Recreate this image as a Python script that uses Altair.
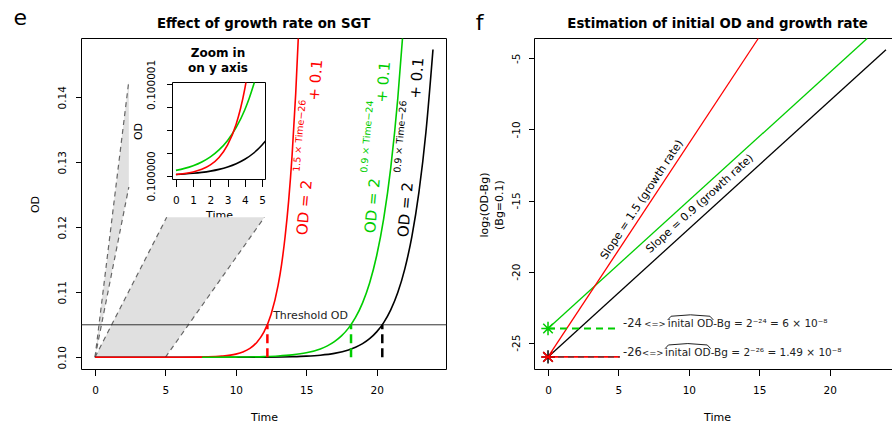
import altair as alt
import pandas as pd

# ---------------- data ----------------
# Panel e : OD versus Time for the three growth curves (OD = 2^(r*Time - k) + 0.1)
red_time = [0, 4, 6, 8, 9, 10, 10.5, 11, 11.5, 12, 12.5, 13, 13.25, 13.5, 13.75, 14, 14.25, 14.433]
red_od = [0.1, 0.100001, 0.1000076, 0.100061, 0.100173, 0.100488, 0.100821, 0.101381, 0.102323,
          0.103906, 0.106569, 0.111049, 0.11431, 0.118581, 0.12406, 0.13125, 0.1405, 0.14905]
green_time = [7.6, 8, 10, 12, 13, 14, 15, 16, 16.5, 17, 17.5, 18, 18.5, 19, 19.5, 20, 20.5, 21, 21.5, 21.834]
green_od = [0.100007, 0.100009, 0.100031, 0.100106, 0.100198, 0.100369, 0.100691, 0.101289, 0.10176,
            0.102405, 0.103285, 0.104487, 0.106128, 0.108373, 0.111433, 0.115625, 0.12134, 0.12915,
            0.13982, 0.14905]
black_time = [0, 10, 12, 14, 15, 16, 17, 18, 18.5, 19, 19.5, 20, 20.5, 21, 21.5, 22, 22.5, 23, 23.5, 24]
black_od = [0.1, 0.100008, 0.100027, 0.100092, 0.100173, 0.100322, 0.100601, 0.101122, 0.101533,
            0.102094, 0.10286, 0.103906, 0.105337, 0.107289, 0.109959, 0.113602, 0.118581, 0.125377,
            0.134668, 0.147366]
threshold_od = 0.105
crossing_time = [12.24, 18.18, 20.40]          # red, green, black

# zoom guides (grey wedges)
guideA_time = [0, 2.40]
guideA_upper = [0.1, 0.14251]
guideA_lower = [0.1, 0.1262]
guideB_od = [0.1, 0.12154]
guideB_left = [0, 5.09]
guideB_right = [5, 12.03]

# inset: OD - 0.1 in units of 1e-6
inset_red_time = [0, 0.5, 1, 1.5, 2, 2.5, 3, 3.5, 3.75, 4, 4.065]
inset_red_exc = [0.0149, 0.0251, 0.0421, 0.0709, 0.1192, 0.2005, 0.3372, 0.5670, 0.7353, 0.9537, 1.02]
inset_green_time = [0, 0.5, 1, 1.5, 2, 2.5, 3, 3.5, 4, 4.25, 4.552]
inset_green_exc = [0.0596, 0.0814, 0.1112, 0.1519, 0.2076, 0.2835, 0.3873, 0.5291, 0.7228, 0.845, 1.02]
inset_black_time = [0, 0.5, 1, 1.5, 2, 2.5, 3, 3.5, 4, 4.5, 5, 5.2]
inset_black_exc = [0.0149, 0.0204, 0.0278, 0.0380, 0.0519, 0.0709, 0.0968, 0.1323, 0.1807, 0.2468, 0.3372, 0.380]

# Panel f : log2(OD - Bg) straight lines
f_red_time, f_red_log = [0, 14.93], [-26, -3.607]
f_green_time, f_green_log = [0, 22.66], [-24, -3.607]
f_black_time, f_black_log = [0, 24], [-26, -4.4]
intercept_log = [-24, -26]
dash_end_time = 5.1

# ---------------- style / layout ----------------
FONT = "DejaVu Sans"
RED, GREEN, BLACK = "#FF0000", "#00CD00", "#000000"
GUIDE_FILL, GUIDE_LINE = "#E0E0E0", "#666666"
W, H = 892, 426
PANELS = {
    "L": ([-0.96, 24.96], [81.5, 446.5], [0.09812, 0.14905], [369.5, 38.5]),
    "R": ([-0.96, 24.96], [534.5, 899.5], [-26.885, -3.607], [369.5, 38.5]),
    "I": ([-0.2, 5.2], [172.5, 265.5], [-0.04, 1.02], [179.5, 82.5]),
}


def scale(dom, rng):
    return alt.Scale(domain=dom, range=rng, nice=False, zero=False)


def pos(p, x2=None, y2=None, xaxis=None, yaxis=None):
    xd, xr, yd, yr = PANELS[p]
    e = {"x": alt.X("x", type="quantitative", scale=scale(xd, xr), axis=xaxis),
         "y": alt.Y("y", type="quantitative", scale=scale(yd, yr), axis=yaxis)}
    if x2:
        e["x2"] = alt.X2(x2)
    if y2:
        e["y2"] = alt.Y2(y2)
    return e


def line(p, xs, ys, color, width, interp="linear"):
    df = pd.DataFrame({"x": xs, "y": ys})
    return alt.Chart(df).mark_line(color=color, strokeWidth=width, interpolate=interp).encode(**pos(p))


def segs(p, x, y, x2, y2, color, width, dash=None, opacity=1.0):
    df = pd.DataFrame({"x": x, "y": y, "x2": x2, "y2": y2})
    kw = dict(color=color, strokeWidth=width, opacity=opacity)
    if dash:
        kw["strokeDash"] = dash
    return alt.Chart(df).mark_rule(**kw).encode(**pos(p, x2="x2", y2="y2"))


def text(p, xs, ys, labels, size, color="#000000", angle=0, align="center",
         baseline="middle", weight="normal"):
    df = pd.DataFrame({"x": xs, "y": ys, "t": labels})
    return alt.Chart(df).mark_text(font=FONT, fontSize=size, color=color, angle=angle, align=align,
                                   baseline=baseline, fontWeight=weight).encode(text="t:N", **pos(p))


def frame(p, xaxis, yaxis, fill_opacity=0.0):
    xd, xr, yd, yr = PANELS[p]
    df = pd.DataFrame({"x": [xd[0]], "x2": [xd[1]], "y": [yd[0]], "y2": [yd[1]]})
    return alt.Chart(df).mark_rect(fill="white", fillOpacity=fill_opacity, stroke="black",
                                   strokeWidth=1).encode(**pos(p, x2="x2", y2="y2", xaxis=xaxis, yaxis=yaxis))


base_axis = dict(domain=False, grid=False, ticks=True, tickColor="black", tickWidth=1,
                 labelFont=FONT, labelFontSize=10.5, labelColor="black", labelFlush=False,
                 labelOverlap=False, titleFont=FONT, titleFontSize=11, titleFontWeight="normal",
                 titleColor="black")

ax_Lx = alt.Axis(orient="bottom", offset=369.5 - H, values=[0, 5, 10, 15, 20], tickSize=6,
                 labelPadding=15, labelBaseline="middle", title="Time", titleY=47.5,
                 titleBaseline="middle", **base_axis)
ax_Ly = alt.Axis(orient="left", offset=-81.5, values=[0.10, 0.11, 0.12, 0.13, 0.14], format=".2f",
                 tickSize=6, labelPadding=13.5, labelAngle=270, labelAlign="center",
                 labelBaseline="middle", title="OD", titleX=-46.5, titleAngle=270,
                 titleBaseline="middle", titleAlign="center", **base_axis)
ax_Rx = alt.Axis(orient="bottom", offset=369.5 - H, values=[0, 5, 10, 15, 20], tickSize=6,
                 labelPadding=15, labelBaseline="middle", title="Time", titleY=48,
                 titleBaseline="middle", **base_axis)
ax_Ry = alt.Axis(orient="left", offset=-534.5, values=[-25, -20, -15, -10, -5],
                 labelExpr="datum.value + ''", tickSize=6, labelPadding=11.8, labelAngle=270,
                 labelAlign="center", labelBaseline="middle", title=None, **base_axis)
ax_Ix = alt.Axis(orient="bottom", offset=179.5 - H, values=[0, 1, 2, 3, 4, 5], tickSize=7,
                 labelPadding=14, labelBaseline="middle", title="Time", titleY=35.5,
                 titleBaseline="middle", **{**base_axis, "labelFontSize": 10.5, "titleFontSize": 11})
ax_Iy = alt.Axis(orient="left", offset=-172.5, values=[0, 0.25, 0.5, 0.75, 1],
                 labelExpr="datum.value == 0 ? '0.100000' : (datum.value == 1 ? '0.100001' : '')",
                 tickSize=6, labelPadding=14.8, labelAngle=270, labelAlign="center",
                 labelBaseline="middle", title="OD", titleX=-34.5, titleAngle=270,
                 titleBaseline="middle", titleAlign="center", **base_axis)

layers = []

# ---------- panel e ----------
dfA = pd.DataFrame({"x": guideA_time, "y": guideA_upper, "y2": guideA_lower})
layers.append(alt.Chart(dfA).mark_area(color=GUIDE_FILL, opacity=1).encode(**pos("L", y2="y2")))
dfB = pd.DataFrame({"y": guideB_od, "x": guideB_left, "x2": guideB_right})
layers.append(alt.Chart(dfB).mark_area(color=GUIDE_FILL, opacity=1, orient="horizontal")
              .encode(**pos("L", x2="x2")))
layers.append(segs("L", [guideA_time[0], guideA_time[0], guideB_left[0], guideB_right[0]],
                   [guideA_upper[0], guideA_lower[0], guideB_od[0], guideB_od[0]],
                   [guideA_time[1], guideA_time[1], guideB_left[1], guideB_right[1]],
                   [guideA_upper[1], guideA_lower[1], guideB_od[1], guideB_od[1]],
                   GUIDE_LINE, 1.2, dash=[5, 4]))
layers.append(frame("L", ax_Lx, ax_Ly))
layers.append(segs("L", [PANELS["L"][0][0]], [threshold_od], [PANELS["L"][0][1]], [threshold_od],
                   "#333333", 1))
layers.append(text("L", [12.65], [0.10635], ["Threshold OD"], 11, color="#222222", align="left"))
layers.append(line("L", black_time, black_od, BLACK, 1.6, "monotone"))
layers.append(line("L", red_time, red_od, RED, 1.6, "monotone"))
layers.append(line("L", green_time, green_od, GREEN, 1.6, "monotone"))
for t, c in zip(crossing_time, [RED, GREEN, BLACK]):
    layers.append(segs("L", [t], [0.1], [t], [threshold_od], c, 2.5, dash=[9, 5]))

# formulas (rotated)
formula_sup = ["1.5 \u00d7 Time\u221226", "0.9 \u00d7 Time\u221224", "0.9 \u00d7 Time\u221226"]
f_base1_x, f_base1_y = [14.70, 19.53, 21.87], [0.11882, 0.11912, 0.11851]
f_sup_x, f_sup_y = [14.30, 19.10, 21.46], [0.12855, 0.1284, 0.1284]
f_base2_x, f_base2_y = [15.54, 20.34, 22.73], [0.13951, 0.1392, 0.13982]
for i, c in enumerate([RED, GREEN, BLACK]):
    layers.append(text("L", [f_base1_x[i]], [f_base1_y[i]], ["OD = 2"], 15, color=c, angle=275, align="left"))
    layers.append(text("L", [f_sup_x[i]], [f_sup_y[i]], [formula_sup[i]], 9.5, color=c, angle=275, align="left"))
    layers.append(text("L", [f_base2_x[i]], [f_base2_y[i]], ["+ 0.1"], 15, color=c, angle=275, align="left"))

# inset
layers.append(frame("I", ax_Ix, ax_Iy, fill_opacity=1.0))
layers.append(line("I", inset_black_time, inset_black_exc, BLACK, 1.6, "monotone"))
layers.append(line("I", inset_green_time, inset_green_exc, GREEN, 1.6, "monotone"))
layers.append(line("I", inset_red_time, inset_red_exc, RED, 1.6, "monotone"))
layers.append(text("I", [2.44, 2.44], [1.346, 1.175], ["Zoom in", "on y axis"], 12, weight="bold"))

# ---------- panel f ----------
layers.append(frame("R", ax_Rx, ax_Ry))
layers.append(text("R", [-4.47], [-15.32], ["log\u2082(OD-Bg)"], 11, angle=270))
layers.append(text("R", [-3.41], [-15.32], ["(Bg=0.1)"], 11, angle=270))
layers.append(line("R", f_black_time, f_black_log, BLACK, 1.3))
layers.append(line("R", f_green_time, f_green_log, GREEN, 1.3))
layers.append(line("R", f_red_time, f_red_log, RED, 1.3))
layers.append(segs("R", [0], [intercept_log[0]], [dash_end_time], [intercept_log[0]], GREEN, 2, dash=[7, 5]))
layers.append(segs("R", [0], [intercept_log[1]], [dash_end_time], [intercept_log[1]], RED, 1.6))
layers.append(segs("R", [0], [intercept_log[1]], [dash_end_time], [intercept_log[1]], "#444444", 1.6,
                   dash=[6, 4], opacity=0.7))

AST = "M-1,0L1,0M0,-1L0,1M-0.71,-0.71L0.71,0.71M-0.71,0.71L0.71,-0.71"
XST = "M-0.71,-0.71L0.71,0.71M-0.71,0.71L0.71,-0.71M-1,0L1,0"
for v, c, shp in [(intercept_log[1], BLACK, AST), (intercept_log[1], RED, XST), (intercept_log[0], GREEN, AST)]:
    dfp = pd.DataFrame({"x": [0], "y": [v]})
    layers.append(alt.Chart(dfp).mark_point(shape=shp, size=180, filled=False, strokeWidth=1.5,
                                            color=c, opacity=1).encode(**pos("R")))

layers.append(text("R", [5.33, 5.33], [-23.685, -25.724], ["-24", "-26"], 11.5, color="#222222", align="left"))
layers.append(text("R", [6.84, 6.68], [-23.685, -25.724], ["<=>", "<=>"], 8.5, color="#222222", align="left"))
layers.append(text("R", [8.50, 8.31], [-23.685, -25.724],
                   ["inital OD-Bg = 2\u207b\u00b2\u2074 = 6 \u00d7 10\u207b\u2078",
                    "inital OD-Bg = 2\u207b\u00b2\u2076 = 1.49 \u00d7 10\u207b\u2078"],
                   10.5, color="#222222", align="left"))
layers.append(line("R", [8.50, 8.74, 10.12, 11.50, 11.74], [-23.40, -23.14, -23.04, -23.14, -23.40], "#222222", 1))
layers.append(line("R", [8.31, 8.55, 9.93, 11.31, 11.55], [-25.42, -25.16, -25.06, -25.16, -25.42], "#222222", 1))
layers.append(text("R", [6.68], [-14.965], ["Slope = 1.5 (growth rate)"], 11, angle=303.4))
layers.append(text("R", [10.79], [-15.246], ["Slope = 0.9 (growth rate)"], 11, angle=317.7))

# ---------- titles and panel letters ----------
layers.append(text("L", [11.97], [0.15074], ["Effect of growth rate on SGT"], 13.3, weight="bold",
                   baseline="alphabetic"))
layers.append(text("R", [12.04], [-2.834], ["Estimation of initial OD and growth rate"], 13.3,
                   weight="bold", baseline="alphabetic"))
layers.append(text("L", [-5.30], [0.15112], ["e"], 22, baseline="alphabetic"))
layers.append(text("R", [-4.85], [-3.01], ["f"], 22, baseline="alphabetic"))

chart = (alt.layer(*layers)
         .resolve_scale(x="independent", y="independent")
         .properties(width=W, height=H, autosize=alt.AutoSizeParams(type="none"), padding=0)
         .configure(font=FONT)
         .configure_view(strokeOpacity=0))

chart.save("out.html", embed_options={"renderer": "svg", "actions": False})
